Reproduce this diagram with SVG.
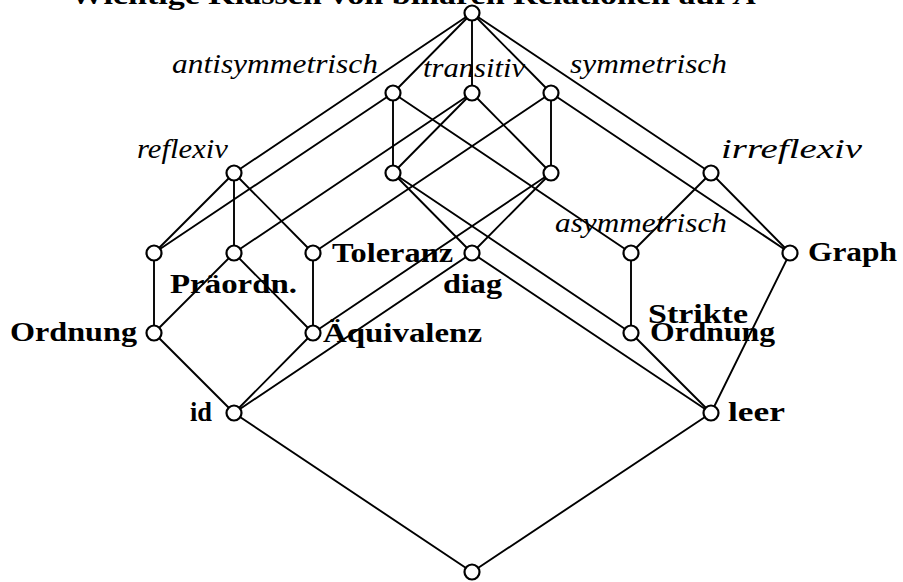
<svg xmlns="http://www.w3.org/2000/svg" width="903" height="582" viewBox="0 0 903 582">
<style>
.e{stroke:#000;stroke-width:1.9;fill:none;stroke-linecap:round}
.n{fill:#fff;stroke:#000;stroke-width:2.2}
.i{font-family:"Liberation Serif","DejaVu Serif",serif;font-style:italic;font-size:27px;fill:#000}
.b{font-family:"Liberation Serif","DejaVu Serif",serif;font-weight:bold;font-size:27px;fill:#000}
.t{font-family:"Liberation Serif","DejaVu Serif",serif;font-weight:bold;font-size:28px;fill:#000}
</style>
<rect width="903" height="582" fill="#fff"/>
<text class="t" x="70" y="4" textLength="687" lengthAdjust="spacingAndGlyphs">Wichtige Klassen von binären Relationen auf <tspan font-style="italic">A</tspan></text>
<g id="connectors">
<line class="e" x1="472" y1="13" x2="234" y2="173"/>
<line class="e" x1="472" y1="13" x2="393" y2="93"/>
<line class="e" x1="472" y1="13" x2="472" y2="93"/>
<line class="e" x1="472" y1="13" x2="551" y2="93"/>
<line class="e" x1="472" y1="13" x2="711" y2="173"/>
<line class="e" x1="393" y1="93" x2="154" y2="253"/>
<line class="e" x1="393" y1="93" x2="393" y2="173"/>
<line class="e" x1="393" y1="93" x2="631" y2="253"/>
<line class="e" x1="472" y1="93" x2="393" y2="173"/>
<line class="e" x1="472" y1="93" x2="234" y2="253"/>
<line class="e" x1="472" y1="93" x2="551" y2="173"/>
<line class="e" x1="551" y1="93" x2="551" y2="173"/>
<line class="e" x1="551" y1="93" x2="313" y2="253"/>
<line class="e" x1="551" y1="93" x2="790" y2="253"/>
<line class="e" x1="234" y1="173" x2="154" y2="253"/>
<line class="e" x1="234" y1="173" x2="234" y2="253"/>
<line class="e" x1="234" y1="173" x2="313" y2="253"/>
<line class="e" x1="393" y1="173" x2="472" y2="253"/>
<line class="e" x1="393" y1="173" x2="631" y2="333"/>
<line class="e" x1="551" y1="173" x2="472" y2="253"/>
<line class="e" x1="551" y1="173" x2="313" y2="333"/>
<line class="e" x1="711" y1="173" x2="631" y2="253"/>
<line class="e" x1="711" y1="173" x2="790" y2="253"/>
<line class="e" x1="154" y1="253" x2="154" y2="333"/>
<line class="e" x1="234" y1="253" x2="154" y2="333"/>
<line class="e" x1="234" y1="253" x2="313" y2="333"/>
<line class="e" x1="313" y1="253" x2="313" y2="333"/>
<line class="e" x1="472" y1="253" x2="234" y2="413"/>
<line class="e" x1="472" y1="253" x2="711" y2="413"/>
<line class="e" x1="631" y1="253" x2="631" y2="333"/>
<line class="e" x1="790" y1="253" x2="711" y2="413"/>
<line class="e" x1="154" y1="333" x2="234" y2="413"/>
<line class="e" x1="313" y1="333" x2="234" y2="413"/>
<line class="e" x1="631" y1="333" x2="711" y2="413"/>
<line class="e" x1="234" y1="413" x2="472" y2="572"/>
<line class="e" x1="711" y1="413" x2="472" y2="572"/>
</g>
<g id="top"><circle class="n" cx="472" cy="13" r="7.5"/></g>
<g id="antisymmetrisch"><circle class="n" cx="393" cy="93" r="7.5"/><text class="i" x="172" y="73" textLength="206" lengthAdjust="spacingAndGlyphs">antisymmetrisch</text></g>
<g id="transitiv"><circle class="n" cx="472" cy="93" r="7.5"/><text class="i" x="423" y="77" textLength="102" lengthAdjust="spacingAndGlyphs">transitiv</text></g>
<g id="symmetrisch"><circle class="n" cx="551" cy="93" r="7.5"/><text class="i" x="570" y="73" textLength="157" lengthAdjust="spacingAndGlyphs">symmetrisch</text></g>
<g id="reflexiv"><circle class="n" cx="234" cy="173" r="7.5"/><text class="i" x="137" y="158" textLength="91" lengthAdjust="spacingAndGlyphs">reflexiv</text></g>
<g id="antisym-trans"><circle class="n" cx="393" cy="173" r="7.5"/></g>
<g id="trans-sym"><circle class="n" cx="551" cy="173" r="7.5"/></g>
<g id="irreflexiv"><circle class="n" cx="711" cy="173" r="7.5"/><text class="i" x="721" y="158" textLength="141" lengthAdjust="spacingAndGlyphs">irreflexiv</text></g>
<g id="refl-antisym"><circle class="n" cx="154" cy="253" r="7.5"/></g>
<g id="praeordn"><circle class="n" cx="234" cy="253" r="7.5"/><text class="b" x="170" y="293" textLength="127" lengthAdjust="spacingAndGlyphs">Präordn.</text></g>
<g id="toleranz"><circle class="n" cx="313" cy="253" r="7.5"/><text class="b" x="332" y="262" textLength="121" lengthAdjust="spacingAndGlyphs">Toleranz</text></g>
<g id="diag"><circle class="n" cx="472" cy="253" r="7.5"/><text class="b" x="443" y="293" textLength="59" lengthAdjust="spacingAndGlyphs">diag</text></g>
<g id="asymmetrisch"><circle class="n" cx="631" cy="253" r="7.5"/><text class="i" x="555" y="232" textLength="172" lengthAdjust="spacingAndGlyphs">asymmetrisch</text></g>
<g id="graph"><circle class="n" cx="790" cy="253" r="7.5"/><text class="b" x="808" y="261" textLength="89" lengthAdjust="spacingAndGlyphs">Graph</text></g>
<g id="ordnung"><circle class="n" cx="154" cy="333" r="7.5"/><text class="b" x="10" y="341" textLength="127" lengthAdjust="spacingAndGlyphs">Ordnung</text></g>
<g id="aequivalenz"><circle class="n" cx="313" cy="333" r="7.5"/><text class="b" x="323" y="342" textLength="159" lengthAdjust="spacingAndGlyphs">Äquivalenz</text></g>
<g id="strikte-ordnung"><circle class="n" cx="631" cy="333" r="7.5"/><text class="b" x="648" y="323" textLength="100" lengthAdjust="spacingAndGlyphs">Strikte</text><text class="b" x="650" y="341" textLength="125" lengthAdjust="spacingAndGlyphs">Ordnung</text></g>
<g id="id"><circle class="n" cx="234" cy="413" r="7.5"/><text class="b" x="190" y="421" textLength="22" lengthAdjust="spacingAndGlyphs">id</text></g>
<g id="leer"><circle class="n" cx="711" cy="413" r="7.5"/><text class="b" x="728" y="421" textLength="57" lengthAdjust="spacingAndGlyphs">leer</text></g>
<g id="bottom"><circle class="n" cx="472" cy="572" r="7.5"/></g>
</svg>
